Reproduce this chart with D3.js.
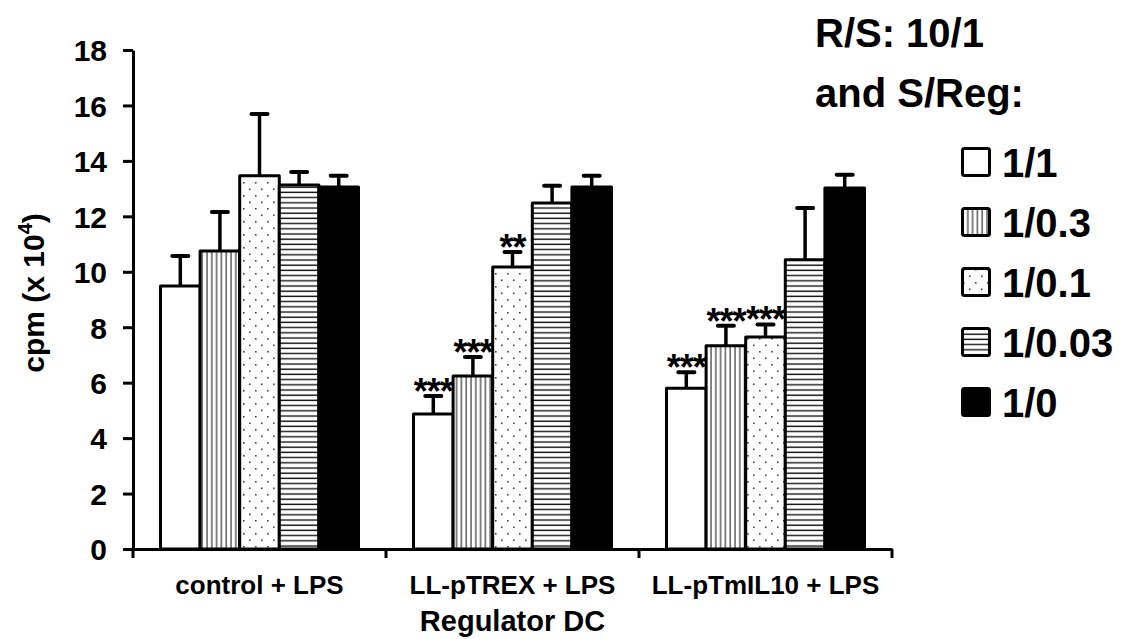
<!DOCTYPE html>
<html>
<head>
<meta charset="utf-8">
<script src="https://cdn.jsdelivr.net/npm/d3@7"></script>
<style>
  body { margin: 0; background: #fff; }
  svg text { font-family: "Liberation Sans", Arial, sans-serif; font-weight: bold; fill: #000; }
</style>
</head>
<body>
<div id="wrapper"></div>
<script>
// data
const groups = ["control + LPS", "LL-pTREX + LPS", "LL-pTmIL10 + LPS"]
const ratios = ["1/1", "1/0.3", "1/0.1", "1/0.03", "1/0"]
const patterns = ["white", "vert", "dots", "horiz", "black"]

const controlMeans = [9.49, 10.75, 13.46, 13.13, 13.06]
const controlErr = [1.08, 1.41, 2.23, 0.47, 0.40]
const trexMeans = [4.87, 6.24, 10.17, 12.48, 13.06]
const trexErr = [0.65, 0.69, 0.54, 0.62, 0.40]
const il10Means = [5.8, 7.33, 7.65, 10.43, 13.02]
const il10Err = [0.58, 0.72, 0.45, 1.87, 0.48]
const stars = [
  ["", "", "", "", ""],
  ["***", "***", "**", "", ""],
  ["***", "***", "***", "", ""],
]

const yTicks = [0, 2, 4, 6, 8, 10, 12, 14, 16, 18]

async function drawBars() {
  const means = [controlMeans, trexMeans, il10Means]
  const errs = [controlErr, trexErr, il10Err]

  const dataset = []
  groups.forEach((g, gi) => {
    ratios.forEach((r, ri) => {
      dataset.push({group: g, ratio: r, pattern: patterns[ri],
        mean: means[gi][ri], err: errs[gi][ri], star: stars[gi][ri]})
    })
  })

  let dimensions = {
    width: 1121,
    height: 639,
    margin: {top: 50, right: 229, bottom: 90, left: 133},
  }
  dimensions.boundedWidth = dimensions.width - dimensions.margin.left - dimensions.margin.right
  dimensions.boundedHeight = dimensions.height - dimensions.margin.top - dimensions.margin.bottom

  const xAccessor = d => d.group
  const yAccessor = d => d.mean

  const wrapper = d3.select("#wrapper")
    .append("svg")
      .attr("width", dimensions.width)
      .attr("height", dimensions.height)

  // fill patterns
  const defs = wrapper.append("defs")
  const vert = defs.append("pattern").attr("id", "vert")
      .attr("patternUnits", "userSpaceOnUse").attr("width", 4.8).attr("height", 10)
  vert.append("rect").attr("width", 4.8).attr("height", 10).attr("fill", "#fff")
  vert.append("line").attr("x1", 2).attr("x2", 2).attr("y1", 0).attr("y2", 10)
      .attr("stroke", "#333").attr("stroke-width", 1.2)

  const horiz = defs.append("pattern").attr("id", "horiz")
      .attr("patternUnits", "userSpaceOnUse").attr("width", 10).attr("height", 5.2)
  horiz.append("rect").attr("width", 10).attr("height", 5.2).attr("fill", "#fff")
  horiz.append("line").attr("x1", 0).attr("x2", 10).attr("y1", 2).attr("y2", 2)
      .attr("stroke", "#111").attr("stroke-width", 1.4)

  const dots = defs.append("pattern").attr("id", "dots")
      .attr("patternUnits", "userSpaceOnUse").attr("width", 12).attr("height", 13)
  dots.append("rect").attr("width", 12).attr("height", 13).attr("fill", "#fff")
  dots.append("rect").attr("x", 2).attr("y", 2).attr("width", 1.6).attr("height", 1.6).attr("fill", "#444")
  dots.append("rect").attr("x", 8).attr("y", 8.5).attr("width", 1.6).attr("height", 1.6).attr("fill", "#444")

  const fillFor = p => p == "white" ? "#fff" : p == "black" ? "#000" : `url(#${p})`

  const bounds = wrapper.append("g")
      .style("transform", `translate(${dimensions.margin.left}px, ${dimensions.margin.top}px)`)

  // scales
  const xScale = d3.scaleBand()
      .domain(groups)
      .range([0, dimensions.boundedWidth])

  const innerScale = d3.scaleBand()
      .domain(ratios)
      .range([27.5, xScale.bandwidth() - 27.5])

  const yScale = d3.scaleLinear()
      .domain([0, 18])
      .range([dimensions.boundedHeight, 0])

  const barCenter = d => xScale(xAccessor(d)) + innerScale(d.ratio) + innerScale.bandwidth() / 2

  // bars
  const barGroups = bounds.selectAll(".bar")
      .data(dataset)
      .enter().append("g")
        .attr("class", "bar")

  barGroups.append("line")
      .attr("x1", barCenter)
      .attr("x2", barCenter)
      .attr("y1", d => yScale(yAccessor(d)))
      .attr("y2", d => yScale(d.mean + d.err))
      .attr("stroke", "#000")
      .attr("stroke-width", 3.5)

  barGroups.append("line")
      .attr("x1", d => barCenter(d) - 8)
      .attr("x2", d => barCenter(d) + 8)
      .attr("y1", d => yScale(d.mean + d.err))
      .attr("y2", d => yScale(d.mean + d.err))
      .attr("stroke", "#000")
      .attr("stroke-width", 4)
      .attr("stroke-linecap", "round")

  barGroups.append("rect")
      .attr("x", d => xScale(xAccessor(d)) + innerScale(d.ratio))
      .attr("y", d => yScale(yAccessor(d)))
      .attr("width", innerScale.bandwidth())
      .attr("height", d => dimensions.boundedHeight - yScale(yAccessor(d)))
      .attr("fill", d => fillFor(d.pattern))
      .attr("stroke", "#000")
      .attr("stroke-width", 3)
      .attr("stroke-linejoin", "round")

  barGroups.filter(d => d.star)
    .append("text")
      .attr("x", barCenter)
      .attr("y", d => yScale(d.mean + d.err) + 8)
      .attr("text-anchor", "middle")
      .style("font-size", "36px")
      .style("letter-spacing", "-1px")
      .text(d => d.star)

  // axes
  const yAxisGenerator = d3.axisLeft()
      .scale(yScale)
      .tickValues(yTicks)
      .tickSize(10)
      .tickPadding(16)
      .tickSizeOuter(0)

  const yAxis = bounds.append("g")
      .call(yAxisGenerator)
  yAxis.select(".domain").attr("stroke-width", 3)
  yAxis.selectAll(".tick line").attr("stroke-width", 3)
  yAxis.selectAll(".tick text").style("font-size", "30px").attr("dy", "0.36em")

  const xAxisGenerator = d3.axisBottom()
      .scale(xScale)
      .tickSize(0)
      .tickPadding(45)
      .tickSizeOuter(0)

  const xAxis = bounds.append("g")
      .call(xAxisGenerator)
      .style("transform", `translateY(${dimensions.boundedHeight}px)`)
  xAxis.select(".domain").attr("stroke-width", 3)
  xAxis.selectAll(".tick text").style("font-size", "26px").attr("dy", 0)

  // category boundary ticks
  const edges = groups.map(g => xScale(g)).concat([dimensions.boundedWidth])
  xAxis.selectAll(".sep")
      .data(edges)
      .enter().append("line")
        .attr("x1", d => d).attr("x2", d => d)
        .attr("y1", 0).attr("y2", 9)
        .attr("stroke", "#000")
        .attr("stroke-width", 3)

  // labels
  xAxis.append("text")
      .attr("x", dimensions.boundedWidth / 2)
      .attr("y", 82)
      .attr("text-anchor", "middle")
      .style("font-size", "29px")
      .text("Regulator DC")

  const yLabel = bounds.append("text")
      .attr("transform", `translate(${44 - dimensions.margin.left}, ${243}) rotate(-90)`)
      .attr("text-anchor", "middle")
      .style("font-size", "30px")
  yLabel.append("tspan").text("cpm (x 10")
  yLabel.append("tspan").attr("dy", -12).style("font-size", "20px").text("4")
  yLabel.append("tspan").attr("dy", 12).text(")")

  // legend
  const legend = wrapper.append("g")
  legend.append("text").attr("x", 815).attr("y", 47).style("font-size", "40px").text("R/S: 10/1")
  legend.append("text").attr("x", 815).attr("y", 107).style("font-size", "40px").text("and S/Reg:")

  const items = legend.selectAll(".item")
      .data(ratios)
      .enter().append("g")
        .attr("class", "item")
        .attr("transform", (d, i) => `translate(961, ${147 + i * 60})`)
  items.append("rect")
      .attr("x", 1.5).attr("y", 1.5)
      .attr("width", 27).attr("height", 27)
      .attr("rx", 2)
      .attr("fill", (d, i) => fillFor(patterns[i]))
      .attr("stroke", "#000")
      .attr("stroke-width", 3)
  items.append("text")
      .attr("x", 41)
      .attr("y", 30)
      .style("font-size", "40px")
      .text(d => d)
}
drawBars()
</script>
</body>
</html>
